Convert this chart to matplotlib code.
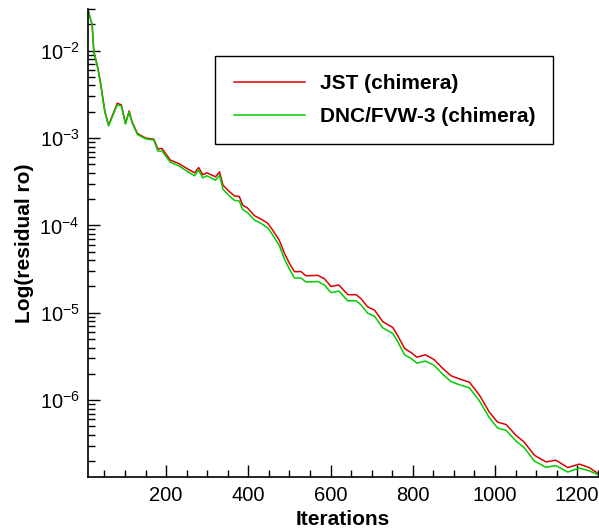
import numpy as np
import matplotlib
matplotlib.use("Agg")
import matplotlib.pyplot as plt
from matplotlib.ticker import LogLocator, MultipleLocator, NullFormatter

plt.rcParams['font.family'] = ['Liberation Sans', 'DejaVu Sans']
plt.rcParams['mathtext.fontset'] = 'custom'
plt.rcParams['mathtext.rm'] = 'Liberation Sans'

# iterations and residuals
iters = [10, 20, 24, 34, 40, 51, 60, 81, 91, 101, 110, 117, 130, 150, 170, 180, 190,
         210, 231, 257, 269, 279, 289, 299, 320, 330, 338, 354, 366, 378, 386, 398,
         415, 431, 447, 459, 475, 488, 500, 512, 528, 540, 569, 585, 601, 620, 642,
         662, 674, 690, 707, 727, 751, 763, 780, 796, 810, 831, 852, 873, 893, 913,
         938, 962, 986, 1006, 1027, 1051, 1071, 1096, 1124, 1148, 1177, 1205, 1229, 1250]

jst = [2.9e-2, 1.97e-2, 9.8e-3, 6.3e-3, 4.4e-3, 2.0e-3, 1.41e-3, 2.5e-3, 2.4e-3, 1.48e-3,
       2.04e-3, 1.54e-3, 1.13e-3, 1.0e-3, 9.7e-4, 7.5e-4, 7.6e-4, 5.6e-4, 5.1e-4, 4.3e-4,
       4.0e-4, 4.6e-4, 3.8e-4, 4.0e-4, 3.6e-4, 4.1e-4, 2.9e-4, 2.43e-4, 2.18e-4, 2.14e-4,
       1.71e-4, 1.58e-4, 1.29e-4, 1.18e-4, 1.06e-4, 8.85e-5, 6.78e-5, 4.76e-5, 3.67e-5,
       2.96e-5, 2.96e-5, 2.65e-5, 2.68e-5, 2.45e-5, 2.0e-5, 2.08e-5, 1.61e-5, 1.61e-5,
       1.45e-5, 1.17e-5, 1.07e-5, 7.9e-6, 6.8e-6, 5.5e-6, 3.9e-6, 3.5e-6, 3.1e-6, 3.3e-6,
       2.9e-6, 2.3e-6, 1.9e-6, 1.75e-6, 1.6e-6, 1.14e-6, 7.3e-7, 5.6e-7, 5.25e-7, 3.95e-7,
       3.3e-7, 2.33e-7, 1.96e-7, 2.05e-7, 1.69e-7, 1.85e-7, 1.69e-7, 1.45e-7]

dnc = [2.9e-2, 1.97e-2, 9.8e-3, 6.2e-3, 4.3e-3, 1.97e-3, 1.38e-3, 2.4e-3, 2.33e-3, 1.45e-3,
       1.98e-3, 1.5e-3, 1.1e-3, 9.8e-4, 9.5e-4, 7.1e-4, 7.1e-4, 5.3e-4, 4.8e-4, 4.0e-4,
       3.7e-4, 4.3e-4, 3.5e-4, 3.7e-4, 3.3e-4, 3.75e-4, 2.6e-4, 2.17e-4, 1.94e-4, 1.9e-4,
       1.52e-4, 1.4e-4, 1.15e-4, 1.05e-4, 9.4e-5, 7.8e-5, 5.9e-5, 4.1e-5, 3.15e-5,
       2.5e-5, 2.5e-5, 2.25e-5, 2.28e-5, 2.08e-5, 1.7e-5, 1.77e-5, 1.37e-5, 1.37e-5,
       1.23e-5, 9.9e-6, 9.1e-6, 6.7e-6, 5.8e-6, 4.7e-6, 3.3e-6, 3.0e-6, 2.65e-6, 2.8e-6,
       2.5e-6, 1.97e-6, 1.63e-6, 1.5e-6, 1.38e-6, 9.8e-7, 6.3e-7, 4.8e-7, 4.5e-7, 3.4e-7,
       2.85e-7, 2.0e-7, 1.7e-7, 1.78e-7, 1.5e-7, 1.67e-7, 1.55e-7, 1.4e-7]

fig = plt.figure(figsize=(5.99, 5.32), dpi=100)
ax = fig.add_axes([0.147, 0.103, 0.851, 0.880])

ax.plot(iters, jst, color='#dd0000', lw=1.1, label='JST (chimera)')
ax.plot(iters, dnc, color='#00cc00', lw=1.1, label='DNC/FVW-3 (chimera)')

ax.set_yscale('log')
ax.set_xlim(10, 1250)
ax.set_ylim(1.31e-7, 0.030)

ax.xaxis.set_major_locator(MultipleLocator(200))
ax.xaxis.set_minor_locator(MultipleLocator(50))
ax.yaxis.set_major_locator(LogLocator(base=10))
ax.yaxis.set_minor_locator(LogLocator(base=10, subs=np.arange(2, 10)))
ax.yaxis.set_minor_formatter(NullFormatter())

ax.tick_params(which='major', direction='in', length=8.5, width=1.0, labelsize=14.5, pad=6)
ax.tick_params(which='minor', direction='in', length=5, width=1.0)
ax.spines['top'].set_visible(False)
ax.spines['right'].set_visible(False)
ax.spines['left'].set_linewidth(1.2)
ax.spines['bottom'].set_linewidth(1.2)

ax.set_xlabel('Iterations', fontsize=15, fontweight='bold', labelpad=4)
ax.set_ylabel('Log(residual ro)', fontsize=15, fontweight='bold', labelpad=4)

leg = ax.legend(loc='upper left', bbox_to_anchor=(0.25, 0.90), fancybox=False,
                edgecolor='black', framealpha=1, handlelength=3.4, handletextpad=0.72,
                borderpad=0.88, labelspacing=0.66, borderaxespad=0,
                prop={'weight': 'bold', 'size': 15})
leg.get_frame().set_linewidth(1.0)

plt.savefig('out.png', dpi=100)
